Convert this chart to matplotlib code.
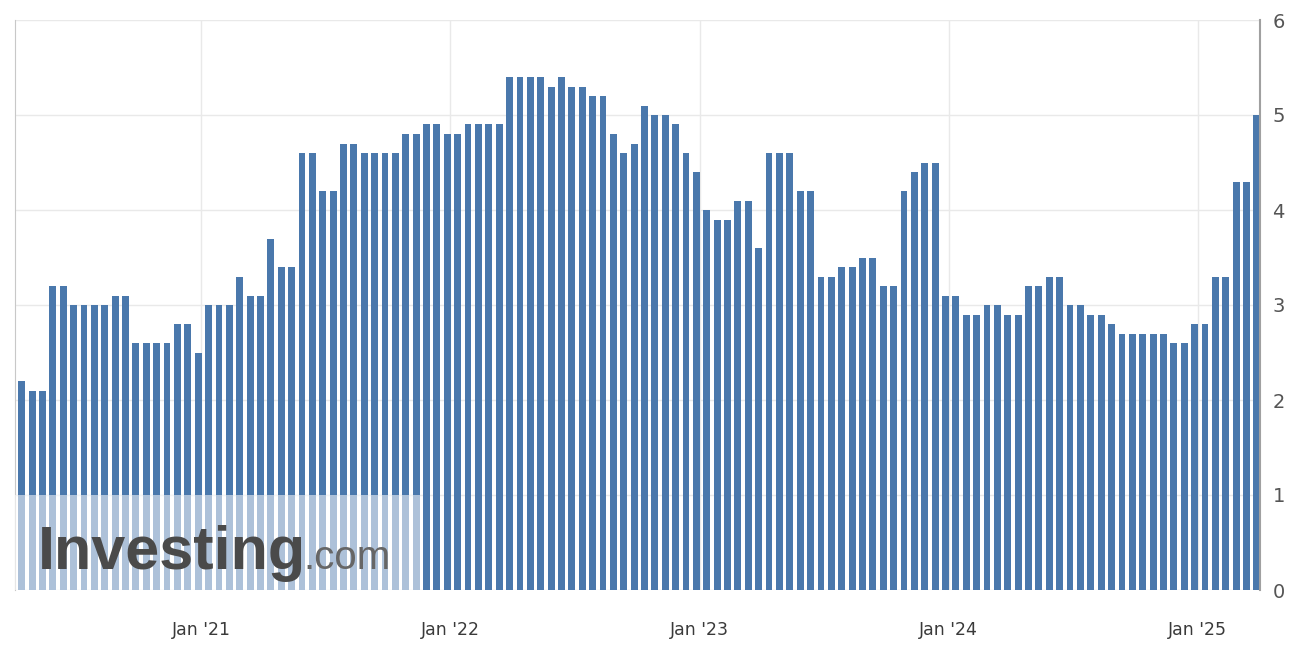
import numpy as np
import pandas as pd
import matplotlib
matplotlib.use("Agg")
import matplotlib.pyplot as plt
from matplotlib.patches import Rectangle

# semi-monthly readings (preliminary / final), Apr 2020 - Apr 2025
values = [
    2.2, 2.1, 2.1, 3.2, 3.2, 3.0, 3.0, 3.0, 3.0, 3.1, 3.1, 2.6, 2.6, 2.6, 2.6, 2.8, 2.8, 2.5,
    3.0, 3.0, 3.0, 3.3, 3.1, 3.1, 3.7, 3.4, 3.4, 4.6, 4.6, 4.2, 4.2, 4.7, 4.7, 4.6, 4.6, 4.6,
    4.6, 4.8, 4.8, 4.9, 4.9, 4.8, 4.8, 4.9, 4.9, 4.9, 4.9, 5.4, 5.4, 5.4, 5.4, 5.3, 5.4, 5.3,
    5.3, 5.2, 5.2, 4.8, 4.6, 4.7, 5.1, 5.0, 5.0, 4.9, 4.6, 4.4, 4.0, 3.9, 3.9, 4.1, 4.1, 3.6,
    4.6, 4.6, 4.6, 4.2, 4.2, 3.3, 3.3, 3.4, 3.4, 3.5, 3.5, 3.2, 3.2, 4.2, 4.4, 4.5, 4.5, 3.1,
    3.1, 2.9, 2.9, 3.0, 3.0, 2.9, 2.9, 3.2, 3.2, 3.3, 3.3, 3.0, 3.0, 2.9, 2.9, 2.8, 2.7, 2.7,
    2.7, 2.7, 2.7, 2.6, 2.6, 2.8, 2.8, 3.3, 3.3, 4.3, 4.3, 5.0,
]
dates = pd.date_range('2020-04-15', periods=len(values), freq='SMS')
y_ticks = [0, 1, 2, 3, 4, 5, 6]

BAR = '#4a78ac'
GRID = '#e9e9e9'

x = np.arange(len(values))
jan_idx = [i for i, d in enumerate(dates) if d.month == 1 and d.day == 1]
jan_lbl = [dates[i].strftime("Jan '%y") for i in jan_idx]

fig = plt.figure(figsize=(13.12, 6.5), dpi=100)
ax = fig.add_axes([15 / 1312, 60 / 650, 1245 / 1312, 570 / 650])
ax.set_axisbelow(True)

ax.bar(x, values, width=0.66, color=BAR, zorder=2)

ax.set_xlim(-0.65, len(values) - 0.7)
ax.set_ylim(0, 6)
ax.set_yticks(y_ticks)
ax.set_xticks([i + 0.3 for i in jan_idx])
ax.set_xticklabels(jan_lbl)

ax.yaxis.tick_right()
ax.tick_params(axis='y', length=0, pad=9, labelsize=14, labelcolor='#555555')
ax.tick_params(axis='x', length=0, pad=22, labelsize=12.5, labelcolor='#3a3a3a')
ax.grid(True, color=GRID, linewidth=1)

for s in ['top', 'bottom']:
    ax.spines[s].set_visible(False)
ax.spines['left'].set_color('#c8c8c8')
ax.spines['right'].set_color('#a0a0a0')
ax.spines['right'].set_linewidth(1.5)

# watermark box
ax.add_patch(Rectangle((0, 0), 0.325, 1 / 6, transform=ax.transAxes,
                       facecolor='white', alpha=0.55, edgecolor='none', zorder=3))
ax.text(0.018, 0.037, 'Investing', transform=ax.transAxes, fontsize=44,
        fontweight='bold', color='#4a4a4a', family='Liberation Sans', zorder=4)
ax.text(0.232, 0.037, '.com', transform=ax.transAxes, fontsize=29,
        color='#666666', family='Liberation Sans', zorder=4)

plt.savefig('out.png', dpi=100)
